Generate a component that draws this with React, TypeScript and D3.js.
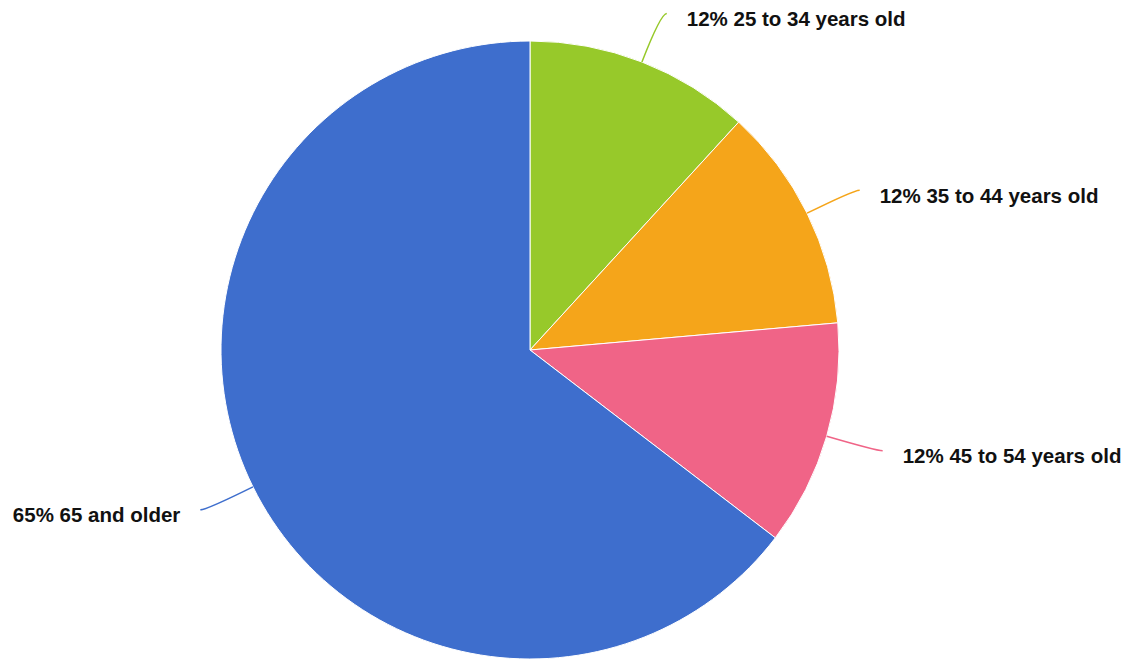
import * as d3 from "d3";
import { useEffect, useRef } from "react";

const categories = ["25 to 34 years old", "35 to 44 years old", "45 to 54 years old", "65 and older"];
const values = [11.8, 11.8, 11.8, 64.6];
const colors = ["#97c92a", "#f5a51a", "#f06487", "#3e6ecd"];

const W = 1126;
const H = 661;

const App = () => {
  const svgRef = useRef<SVGSVGElement | null>(null);

  useEffect(() => {
    const svg = d3.select(svgRef.current);
    svg.selectAll("*").remove();
    svg.attr("width", W).attr("height", H);

    const cx = 530;
    const cy = 350;
    const r = 309;
    const total = d3.sum(values);

    const pie = d3
      .pie<number>()
      .sort(null)
      .value((d) => d)
      .startAngle(0)
      .endAngle(2 * Math.PI);
    const arcs = pie(values);
    const arc = d3.arc<d3.PieArcDatum<number>>().innerRadius(0).outerRadius(r);

    const g = svg.append("g").attr("transform", `translate(${cx},${cy})`);

    g.selectAll("path.slice")
      .data(arcs)
      .enter()
      .append("path")
      .attr("class", "slice")
      .attr("d", arc)
      .attr("fill", (_, i) => colors[i])
      .attr("stroke", "#fff")
      .attr("stroke-width", 1);

    // label lines + labels
    const len1 = 52;
    const len2 = 6;
    const gap = 20;
    arcs.forEach((a, i) => {
      const mid = (a.startAngle + a.endAngle) / 2;
      const sx = Math.sin(mid);
      const sy = -Math.cos(mid);
      const right = sx >= 0;
      const p0: [number, number] = [sx * r, sy * r];
      const p1: [number, number] = [sx * (r + len1), sy * (r + len1)];
      const p2: [number, number] = [p1[0] + (right ? len2 : -len2), p1[1]];
      const path = d3.path();
      path.moveTo(p0[0], p0[1]);
      path.quadraticCurveTo(p1[0], p1[1], p2[0], p2[1]);
      g.append("path")
        .attr("d", path.toString())
        .attr("fill", "none")
        .attr("stroke", colors[i])
        .attr("stroke-width", 1.5);

      const pct = Math.round((values[i] / total) * 100);
      g.append("text")
        .attr("x", p2[0] + (right ? gap : -gap))
        .attr("y", p2[1] + 5)
        .attr("text-anchor", right ? "start" : "end")
        .attr("dominant-baseline", "central")
        .attr("font-family", "'Liberation Sans', Arial, sans-serif")
        .attr("font-weight", "bold")
        .attr("font-size", 20.5)
        .attr("fill", "#111")
        .text(`${pct}% ${categories[i]}`);
    });
  }, []);

  return (
    <div style={{ position: "absolute", left: 0, top: 0, background: "#fff" }}>
      <svg ref={svgRef} style={{ display: "block" }} />
    </div>
  );
};

export default App;
